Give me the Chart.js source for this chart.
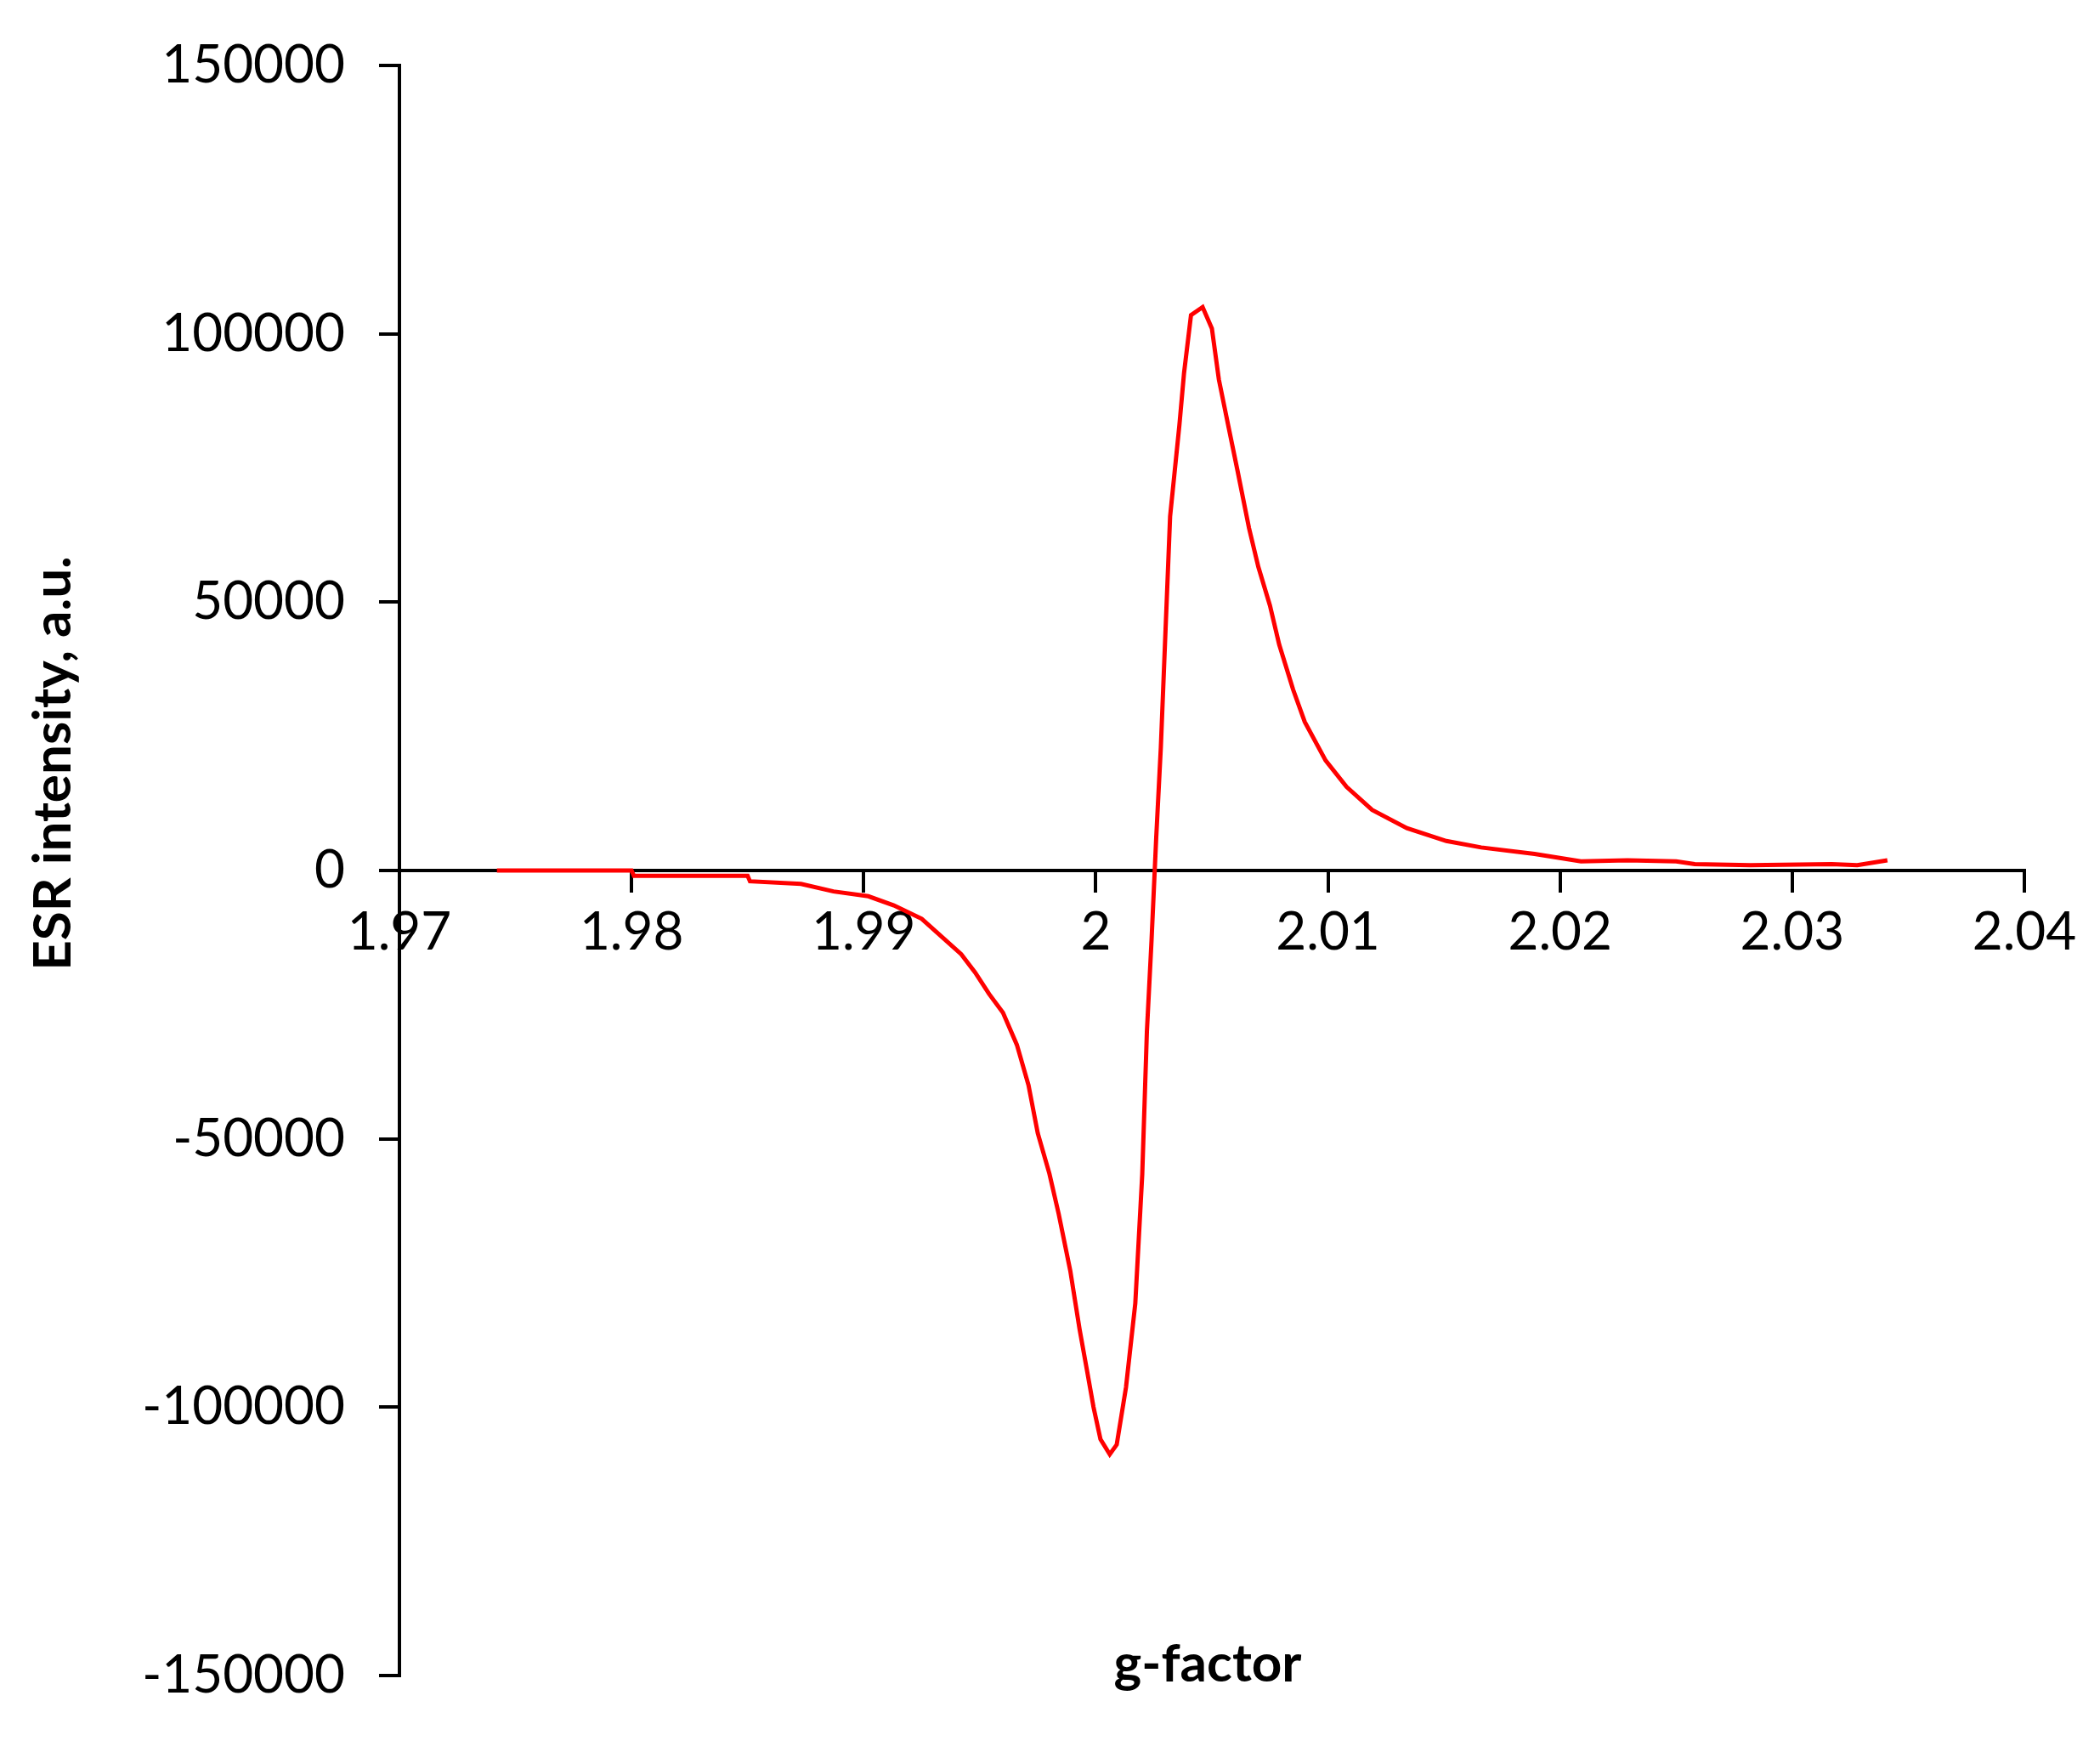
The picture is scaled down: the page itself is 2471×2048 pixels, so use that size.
<!DOCTYPE html>
<html><head><meta charset="utf-8">
<script src="https://cdn.jsdelivr.net/npm/chart.js@4"></script>
<style>html,body{margin:0;padding:0;background:#fff}</style>
</head><body>
<canvas id="c" width="2471" height="2048"></canvas>
<script>
const gFactor = [1.9742,1.98,1.9801,1.985,1.9851,1.9873,1.9887,1.9902,1.9913,1.9925,1.9934,1.9942,1.9948,1.9954,1.996,1.9966,1.9971,1.9975,1.998,1.9984,1.9989,1.9993,1.9996,1.9999,2.0002,2.0006,2.0009,2.0013,2.0017,2.002,2.0022,2.0024,2.0026,2.0028,2.003,2.0032,2.0036,2.0038,2.0041,2.0046,2.005,2.0053,2.0057,2.0061,2.0066,2.007,2.0075,2.0079,2.0085,2.009,2.0099,2.0108,2.0119,2.0134,2.0151,2.0166,2.0189,2.0209,2.0229,2.025,2.0258,2.0282,2.0317,2.0328,2.0341];
const intensity = [0,0,-1000,-1000,-2000,-2500,-3900,-4800,-6500,-9000,-12500,-15600,-19000,-23000,-26500,-32500,-40000,-49000,-56500,-64000,-74600,-85500,-92700,-100000,-106000,-108800,-107000,-96300,-80700,-56600,-30000,-13000,6000,22900,44500,66000,83000,92700,103500,105000,101000,91500,83000,74600,63800,56600,49400,42100,33700,27700,20500,15600,11300,7900,5500,4300,3100,1700,1900,1700,1200,1000,1200,1000,1900];
const xTicks = [1.97,1.98,1.99,2,2.01,2.02,2.03,2.04];
const yTicks = [-150000,-100000,-50000,0,50000,100000,150000];
const xTitle = 'g-factor';
const yTitle = 'ESR intensity, a.u.';

const FONT = 'Lato, "Open Sans", sans-serif';
const titles = {
  id:'titles',
  afterDraw(chart){
    const ctx = chart.ctx;
    ctx.save();
    ctx.fillStyle='#000';
    ctx.font = 'bold 62px '+FONT;
    ctx.textAlign='center'; ctx.textBaseline='middle';
    ctx.fillText(xTitle, 1421, 1958);
    ctx.translate(63, 898);
    ctx.rotate(-Math.PI/2);
    ctx.fillText(yTitle, 0, 0);
    ctx.restore();
  }
};
new Chart(document.getElementById('c'), {
  type:'line',
  data:{datasets:[{data:gFactor.map((g,i)=>({x:g,y:intensity[i]})),borderColor:'#ff0000',borderWidth:5,pointRadius:0,tension:0,fill:false}]},
  options:{
    responsive:false, animation:false, devicePixelRatio:1,
    layout:{padding:{top:35,right:89,bottom:39,left:0}},
    plugins:{legend:{display:false},tooltip:{enabled:false}},
    scales:{
      x:{type:'linear',position:{y:0},min:1.97,max:2.04,
        afterBuildTicks(s){s.ticks=xTicks.map(v=>({value:v}));},
        ticks:{color:'#000',font:{size:62,family:FONT},padding:12,maxRotation:0,autoSkip:false,
          callback:v=>String(Number(v.toFixed(2)))},
        grid:{display:true,drawOnChartArea:false,drawTicks:true,tickLength:24,color:'#000',lineWidth:4},
        border:{display:true,color:'#000',width:4}},
      y:{type:'linear',min:-150000,max:150000,
        afterBuildTicks(s){s.ticks=yTicks.map(v=>({value:v}));},
        afterFit(s){s.width=470;},
        ticks:{color:'#000',font:{size:62,family:FONT},padding:40,callback:v=>String(v)},
        grid:{display:true,drawOnChartArea:false,drawTicks:true,tickLength:24,color:'#000',lineWidth:4},
        border:{display:true,color:'#000',width:4}}
    }
  },
  plugins:[titles]
});
</script>
</body></html>
